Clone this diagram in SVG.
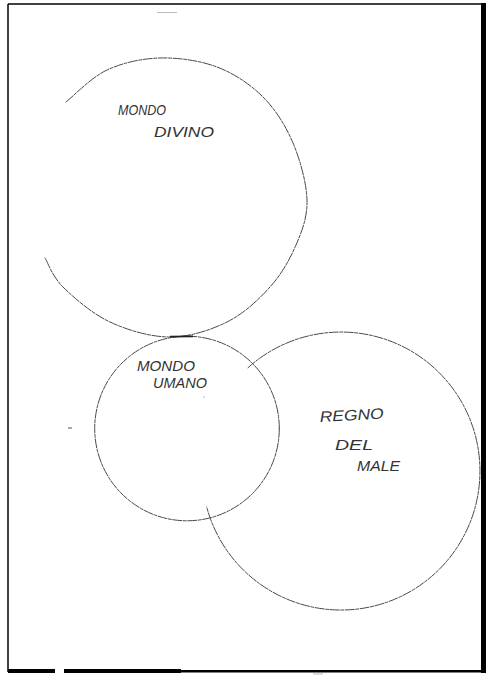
<svg xmlns="http://www.w3.org/2000/svg" width="488" height="677" viewBox="0 0 488 677">
  <style>
    .ring { fill: none; stroke: #4a4a4a; stroke-width: 1; stroke-dasharray: 9 1.5 3 1.5; stroke-linecap: round; }
    .hand { font-family: "Liberation Sans", "DejaVu Sans", sans-serif; font-style: italic; font-size: 15px; fill: #333; }
    .frame { stroke: #000; fill: none; }
  </style>
  <rect width="488" height="677" fill="#fff"/>

  <g id="frame">
    <line class="frame" x1="8" y1="4" x2="482" y2="4" stroke-width="1.3"/>
    <line class="frame" x1="8" y1="4" x2="8" y2="672" stroke-width="1.5"/>
    <rect x="481" y="3" width="5" height="670" fill="#000"/>
    <rect x="8" y="669" width="47" height="4" fill="#000"/>
    <rect x="64" y="669" width="117" height="4" fill="#000"/>
    <rect x="181" y="670" width="301" height="2.5" fill="#000"/>
    <rect x="157" y="12" width="20" height="1" fill="#bbb"/>
    <rect x="313" y="673.5" width="10" height="1" fill="#bbb"/>
  </g>

  <g id="mondo-divino">
    <path class="ring" d="M66,102 C72.8,96.7 91.3,77.3 107,70 C122.7,62.7 141.7,58.5 160,58 C178.3,57.5 199.8,60.5 217,67 C234.2,73.5 250.3,84.3 263,97 C275.7,109.7 285.7,125.8 293,143 C300.3,160.2 306.5,183 307,200 C307.5,217 302.2,230.5 296,245 C289.8,259.5 281.5,274.2 270,287 C258.5,299.8 243.7,313.7 227,322 C210.3,330.3 189.5,337 170,337 C150.5,337 127.8,330.3 110,322 C92.2,313.7 73.8,297.7 63,287 C52.2,276.3 48,262.8 45,258"/>
    <text class="hand" x="118" y="115" textLength="48" lengthAdjust="spacingAndGlyphs">MONDO</text>
    <text class="hand" x="154" y="137" textLength="60" lengthAdjust="spacingAndGlyphs">DIVINO</text>
  </g>

  <g id="mondo-umano">
    <circle class="ring" cx="187" cy="428.5" r="92.3"/>
    <line x1="170" y1="336.6" x2="193" y2="336.4" stroke="#222" stroke-width="1.6"/>
    <text class="hand" x="137" y="371" textLength="58" lengthAdjust="spacingAndGlyphs">MONDO</text>
    <text class="hand" x="153" y="388" textLength="54" lengthAdjust="spacingAndGlyphs">UMANO</text>
  </g>

  <g id="regno-del-male">
    <path class="ring" d="M248,367.7 A139,139 0 1 1 206.7,507"/>
    <text class="hand" x="320" y="422" textLength="64" lengthAdjust="spacingAndGlyphs" transform="rotate(-3 320 422)">REGNO</text>
    <text class="hand" x="335" y="450" textLength="38" lengthAdjust="spacingAndGlyphs">DEL</text>
    <text class="hand" x="357" y="471" textLength="43" lengthAdjust="spacingAndGlyphs">MALE</text>
  </g>

  <g id="marks">
    <line x1="68" y1="428" x2="72" y2="428" stroke="#555" stroke-width="1"/>
    <circle cx="204" cy="397" r="0.6" fill="#666"/>
  </g>

  <g id="connectors"/>
</svg>
